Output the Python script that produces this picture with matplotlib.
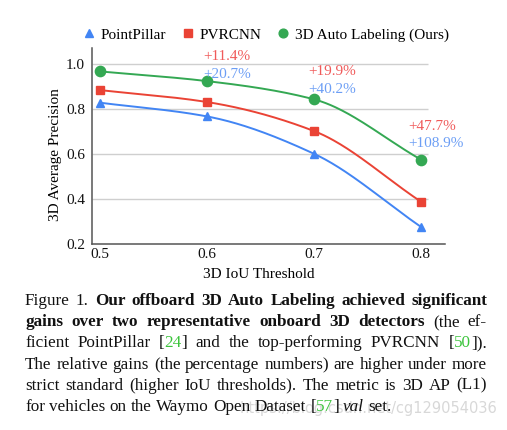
import numpy as np
import matplotlib
matplotlib.use("Agg")
import matplotlib.pyplot as plt
from matplotlib.lines import Line2D
from matplotlib.transforms import IdentityTransform

# ---------------- data ----------------
iou = [0.5, 0.6, 0.7, 0.8]
pointpillar = [0.828, 0.767, 0.601, 0.276]
pvrcnn = [0.884, 0.831, 0.702, 0.388]
auto_label = [0.967, 0.924, 0.843, 0.575]
series_names = ["PointPillar", "PVRCNN", "3D Auto Labeling (Ours)"]
gain_iou = [0.6, 0.7, 0.8]
gain_vs_pvrcnn = ["+11.4%", "+19.9%", "+47.7%"]
gain_vs_pointpillar = ["+20.7%", "+40.2%", "+108.9%"]
yticks = [0.2, 0.4, 0.6, 0.8, 1.0]
xticks = [0.5, 0.6, 0.7, 0.8]

W, H = 507, 430
SERIF = "Liberation Serif"
BLUE, RED, GREEN = "#4285F4", "#EA4335", "#34A853"
BLUE_T, RED_T = "#6C9EF5", "#F05A5A"

plt.rcParams["font.family"] = [SERIF, "DejaVu Serif"]

fig = plt.figure(figsize=(W / 100, H / 100), dpi=100)
ax = fig.add_axes([92 / W, (H - 244) / H, 353 / W, 196 / H])

ax.set_xlim(0.5 - 8 / 1070, 0.8 + 24 / 1070)
ax.set_ylim(0.2, 1.0 + 16 / 225)


def smooth(x, y, n=200):
    x = np.asarray(x, float)
    y = np.asarray(y, float)
    h = np.diff(x)
    d = np.diff(y) / h
    m = np.zeros_like(y)
    m[0], m[-1] = d[0], d[-1]
    for k in range(1, len(x) - 1):
        if d[k - 1] * d[k] <= 0:
            m[k] = 0
        else:
            w1 = 2 * h[k] + h[k - 1]
            w2 = h[k] + 2 * h[k - 1]
            m[k] = (w1 + w2) / (w1 / d[k - 1] + w2 / d[k])
    xs, ys = [], []
    for k in range(len(x) - 1):
        t = np.linspace(0, 1, n // (len(x) - 1))
        h00 = 2 * t**3 - 3 * t**2 + 1
        h10 = t**3 - 2 * t**2 + t
        h01 = -2 * t**3 + 3 * t**2
        h11 = t**3 - t**2
        xs.append(x[k] + t * h[k])
        ys.append(h00 * y[k] + h10 * h[k] * m[k] + h01 * y[k + 1] + h11 * h[k] * m[k + 1])
    return np.concatenate(xs), np.concatenate(ys)


# grid lines
ax.hlines(yticks[1:], ax.get_xlim()[0], 0.8 + 7 / 1070, colors="#cfcfcf", lw=1.0, zorder=0)

specs = [
    (pointpillar, BLUE, "^", 6.2),
    (pvrcnn, RED, "s", 6.0),
    (auto_label, GREEN, "o", 7.4),
]
handles = []
for (vals, col, mk, ms), name in zip(specs, series_names):
    sx, sy = smooth(iou, vals)
    ax.plot(sx, sy, color=col, lw=1.4, zorder=2)
    ax.plot(iou, vals, linestyle="none", marker=mk, color=col, ms=ms, zorder=3)
    handles.append(Line2D([], [], linestyle="none", marker=mk, color=col, ms=ms * 0.85, label=name))

# gain annotations (offsets in pixels relative to auto-label point)
red_off = [(-4, 25), (-6, 28), (-13, 33)]
blue_off = [(-4, 7), (-6, 10), (-13, 16)]
for gx, gr, gb, ro, bo in zip(gain_iou, gain_vs_pvrcnn, gain_vs_pointpillar, red_off, blue_off):
    gy = auto_label[iou.index(gx)]
    ax.annotate(gr, (gx, gy), xytext=(ro[0] * 0.72, ro[1] * 0.72), textcoords="offset points",
                ha="left", va="center", color=RED_T, fontsize=11, zorder=4)
    ax.annotate(gb, (gx, gy), xytext=(bo[0] * 0.72, bo[1] * 0.72), textcoords="offset points",
                ha="left", va="center", color=BLUE_T, fontsize=11, zorder=4)

for s in ["top", "right"]:
    ax.spines[s].set_visible(False)
for s in ["left", "bottom"]:
    ax.spines[s].set_color("#555555")
    ax.spines[s].set_linewidth(1.1)

ax.set_yticks(yticks)
ax.set_yticklabels([f"{v:.1f}" for v in yticks])
ax.set_xticks(xticks)
ax.set_xticklabels([f"{v:.1f}" for v in xticks])
ax.tick_params(length=0, labelsize=11, colors="#111111")
ax.tick_params(axis="y", pad=5)
ax.tick_params(axis="x", pad=3)

ax.set_xlabel("3D IoU Threshold", fontsize=11)
ax.set_ylabel("3D Average Precision", fontsize=11)
ax.xaxis.set_label_coords((259 - 92) / 353, (244 - 274) / 196)
ax.xaxis.label.set_verticalalignment("center")
ax.yaxis.set_label_coords((56 - 92) / 353, (244 - 155) / 196)
ax.yaxis.label.set_verticalalignment("center")

fig.legend(handles=handles, loc="center", bbox_to_anchor=(266 / W, 1 - 35 / H), ncol=3,
           frameon=False, fontsize=11, handlelength=0.8, handletextpad=0.4,
           columnspacing=1.0, borderaxespad=0, borderpad=0)

# ---------------- caption ----------------
GREEN_REF = "#3CC43C"
caption_lines = [
    ([("Figure 1. ", "n"), ("Our offboard 3D Auto Labeling achieved significant", "b")], True),
    ([("gains over two representative onboard 3D detectors", "b"), (" (the ef-", "n")], True),
    ([("ficient PointPillar [", "n"), ("24", "g"), ("] and the top-performing PVRCNN [", "n"),
      ("50", "g"), ("]).", "n")], True),
    ([("The relative gains (the percentage numbers) are higher under more", "n")], True),
    ([("strict standard (higher IoU thresholds). The metric is 3D AP (L1)", "n")], True),
    ([("for vehicles on the Waymo Open Dataset [", "n"), ("57", "g"), ("] ", "n"),
      ("val", "i"), (" set.", "n")], False),
]
CAP_FS = 12.3
cap_left, cap_right = 25, 487
baselines = [305, 326.2, 347.4, 368.6, 389.8, 411.0]

renderer = fig.canvas.get_renderer()


def style_kw(st):
    kw = dict(fontsize=CAP_FS, color="#111111", fontweight="normal", fontstyle="normal")
    if st == "b":
        kw["fontweight"] = "bold"
    elif st == "i":
        kw["fontstyle"] = "italic"
    elif st == "g":
        kw["color"] = GREEN_REF
    return kw


def words_of(segs):
    words = [[]]
    for text, st in segs:
        parts = text.split(" ")
        for i, p in enumerate(parts):
            if i > 0:
                words.append([])
            if p:
                words[-1].append((p, st))
    return [w for w in words if w]


# watermark (drawn beneath caption)
fig.text(497 / W, 1 - 408 / H, "https://blog.csdn.net/cg129054036", ha="right", va="center",
         fontsize=10.5, color="#d8d8d8", family="DejaVu Sans", zorder=0)

space_w = None
for (segs, justify), yb in zip(caption_lines, baselines):
    words = words_of(segs)
    items = []
    widths = []
    for w in words:
        runs = []
        tot = 0
        for text, st in w:
            t = fig.text(0, 0, text, transform=IdentityTransform(), ha="left", va="baseline",
                         **style_kw(st))
            wd = t.get_window_extent(renderer).width
            runs.append((t, wd))
            tot += wd
        items.append(runs)
        widths.append(tot)
    if space_w is None:
        st_ = fig.text(0, 0, "a a", transform=IdentityTransform(), fontsize=CAP_FS)
        st2 = fig.text(0, 0, "aa", transform=IdentityTransform(), fontsize=CAP_FS)
        space_w = st_.get_window_extent(renderer).width - st2.get_window_extent(renderer).width
        st_.remove(); st2.remove()
    if justify and len(words) > 1:
        gap = (cap_right - cap_left - sum(widths)) / (len(words) - 1)
    else:
        gap = space_w
    x = cap_left
    for runs, tw in zip(items, widths):
        xx = x
        for t, wd in runs:
            t.set_position((xx, H - yb))
            xx += wd
        x += tw + gap

fig.savefig("out.png", dpi=100)
